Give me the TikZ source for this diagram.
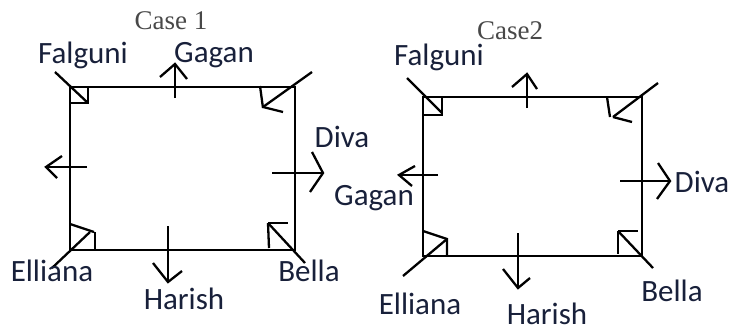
\documentclass[tikz,border=0pt]{standalone}
\usepackage{fontspec}
\setmainfont{Carlito}
\newfontfamily\capfont{Liberation Serif}
\definecolor{lbl}{RGB}{24,32,58}
\definecolor{capc}{RGB}{72,72,72}
\begin{document}
\begin{tikzpicture}[x=1pt,y=-1pt]
\tikzset{
  ln/.style={line width=2.3pt, draw=black, line join=miter},
  lab/.style={text=lbl, font=\fontsize{31}{31}\selectfont, inner sep=0pt, anchor=base},
  casetitle/.style={text=capc, font=\capfont\fontsize{27}{27}\selectfont, inner sep=0pt, anchor=base}
}
\useasboundingbox (0,0) rectangle (730,332);
% ---------- Case 1 ----------
\coordinate (a1) at (70,87);
\coordinate (b1) at (295,87);
\coordinate (c1) at (295,250);
\coordinate (d1) at (70,250);
\draw[ln] (a1) -- (b1) -- (c1) -- (d1) -- cycle;
% corners
\draw[ln] (55,72) -- (88,103);
\draw[ln] (70,103) -- (88,103) -- (88,87);
\draw[ln] (312,72) -- (263,107);
\draw[ln] (260,86) -- (263,108);
\draw[ln] (263,107) -- (283,112);
\draw[ln] (52,268) -- (90,232);
\draw[ln] (70,224) -- (94,232);
\draw[ln] (95,232) -- (95,250);
\draw[ln] (305,263) -- (268,223);
\draw[ln] (268,223) -- (288,223);
\draw[ln] (268,223) -- (269,248);
% side arrows
\draw[ln] (175,98) -- (175,64);
\draw[ln] (160,77) -- (175,64) -- (187,79);
\draw[ln] (87,167) -- (46,167);
\draw[ln] (62,156) -- (46,167) -- (57,178);
\draw[ln] (272,173) -- (323,173);
\draw[ln] (312,152) -- (323,173) -- (310,192);
\draw[ln] (168,226) -- (168,282);
\draw[ln] (153,263) -- (168,282) -- (182,271);
% labels
\node[casetitle] (case1) at (171,29) {Case 1};
\node[lab] (f1) at (83,63) {Falguni};
\node[lab] (g1) at (214,62) {Gagan};
\node[lab] (dv1) at (342,147) {Diva};
\node[lab] (e1) at (52,281) {Elliana};
\node[lab] (h1) at (184,309) {Harish};
\node[lab] (be1) at (309,281) {Bella};
% ---------- Case 2 ----------
\coordinate (a2) at (423,97);
\coordinate (b2) at (642,97);
\coordinate (c2) at (642,256);
\coordinate (d2) at (423,256);
\draw[ln] (a2) -- (b2) -- (c2) -- (d2) -- cycle;
\draw[ln] (407,78) -- (442,113);
\draw[ln] (423,115) -- (442,115) -- (442,97);
\draw[ln] (658,83) -- (613,117);
\draw[ln] (607,97) -- (610,117);
\draw[ln] (613,117) -- (632,122);
\draw[ln] (403,276) -- (447,239);
\draw[ln] (423,231) -- (447,239) -- (447,256);
\draw[ln] (653,268) -- (618,231);
\draw[ln] (618,231) -- (638,231);
\draw[ln] (618,231) -- (618,254);
\draw[ln] (527,108) -- (527,74);
\draw[ln] (512,87) -- (527,74) -- (537,89);
\draw[ln] (438,175) -- (399,175);
\draw[ln] (415,166) -- (399,175) -- (412,186);
\draw[ln] (620,181) -- (670,181);
\draw[ln] (658,163) -- (670,181) -- (657,199);
\draw[ln] (518,233) -- (518,288);
\draw[ln] (503,269) -- (518,288) -- (530,278);
\node[casetitle] (case2) at (510,39) {Case2};
\node[lab] (f2) at (439,65) {Falguni};
\node[lab] (g2) at (374,205) {Gagan};
\node[lab] (dv2) at (702,192) {Diva};
\node[lab] (e2) at (420,314) {Elliana};
\node[lab] (h2) at (547,324) {Harish};
\node[lab] (be2) at (672,301) {Bella};
\end{tikzpicture}
\end{document}
